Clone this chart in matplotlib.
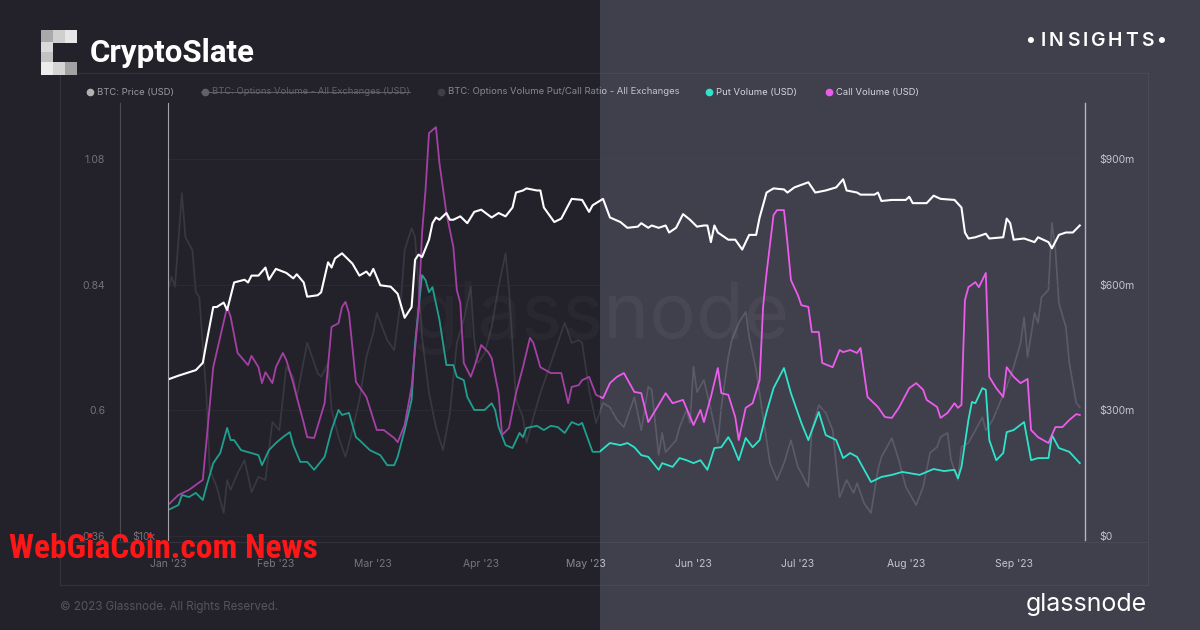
import numpy as np
import matplotlib
matplotlib.use("Agg")
from matplotlib import pyplot as plt
from matplotlib import dates as mdates
from matplotlib import font_manager
from matplotlib.lines import Line2D
from matplotlib.patches import Rectangle
from matplotlib.ticker import FixedLocator, NullLocator

# ---- data (days since 2023-01-01) ----
price_days = [0, 3, 8, 10, 11, 13, 14, 16, 17, 19,
              22, 23, 24, 26, 28, 29, 31, 34, 36, 37,
              39, 40, 43, 44, 46, 47, 48, 50, 53, 55,
              57, 58, 59, 61, 64, 66, 68, 70, 71, 72,
              73, 75, 76, 77, 78, 80, 81, 82, 84, 86,
              88, 90, 93, 95, 97, 99, 100, 102, 103, 106,
              107, 108, 111, 113, 116, 119, 121, 122, 125, 127,
              130, 132, 135, 136, 138, 139, 141, 143, 144, 146,
              148, 150, 152, 154, 155, 156, 157, 158, 161, 163,
              165, 167, 169, 170, 172, 174, 177, 178, 180, 184,
              186, 189, 192, 194, 195, 198, 199, 203, 204, 205,
              208, 212, 213, 214, 218, 220, 222, 226, 228, 229,
              230, 232, 235, 236, 240, 241, 242, 243, 246, 249,
              250, 253, 254, 256, 258, 260, 262]
price_k = [16.5, 16.7, 17.0, 17.4, 18.5, 20.8, 20.8, 21.1, 20.6, 22.5,
           22.7, 22.5, 23.0, 23.0, 23.6, 22.7, 23.5, 23.2, 22.8, 23.1,
           22.5, 21.5, 21.6, 21.8, 24.0, 23.6, 24.3, 24.7, 23.9, 23.0,
           23.3, 23.0, 23.5, 22.3, 22.2, 21.7, 20.1, 20.8, 24.2, 24.6,
           24.4, 25.8, 27.2, 27.7, 27.5, 28.1, 27.5, 27.5, 27.8, 27.2,
           28.2, 28.4, 27.7, 28.1, 27.8, 28.6, 30.0, 30.2, 30.4, 30.2,
           30.2, 28.6, 27.3, 27.6, 29.4, 29.3, 28.2, 28.8, 29.4, 27.7,
           27.3, 26.8, 26.9, 27.2, 26.8, 27.0, 26.8, 27.0, 26.4, 26.8,
           28.0, 27.5, 26.9, 27.0, 27.0, 25.6, 27.0, 26.4, 25.8, 25.8,
           25.0, 26.2, 26.2, 27.7, 30.0, 30.4, 30.3, 30.0, 30.5, 31.0,
           30.0, 30.2, 30.5, 31.3, 30.2, 30.0, 29.8, 29.8, 30.0, 29.2,
           29.3, 29.3, 29.6, 29.0, 29.0, 29.7, 29.4, 29.3, 28.6, 26.4,
           25.9, 26.0, 26.3, 25.9, 26.0, 27.6, 27.2, 25.8, 25.9, 25.6,
           26.0, 25.6, 25.1, 26.2, 26.4, 26.4, 27.0]

put_days = [0, 3, 4, 6, 8, 10, 11, 13, 15, 17,
            18, 19, 21, 24, 26, 27, 29, 31, 33, 35,
            36, 38, 40, 42, 45, 47, 49, 50, 52, 54,
            55, 58, 61, 63, 65, 66, 68, 70, 71, 73,
            74, 75, 76, 78, 80, 82, 83, 85, 86, 88,
            91, 93, 94, 95, 97, 99, 101, 102, 103, 106,
            108, 110, 112, 114, 116, 118, 119, 122, 124, 127,
            130, 132, 134, 136, 138, 141, 142, 145, 147, 149,
            151, 153, 155, 157, 159, 161, 162, 164, 166, 168,
            170, 172, 174, 177, 179, 181, 182, 184, 187, 189,
            192, 194, 196, 198, 202, 205, 208, 211, 216, 220,
            223, 226, 227, 228, 230, 231, 232, 234, 235, 236,
            238, 240, 241, 243, 246, 248, 250, 253, 254, 256,
            259, 262]
put_m = [62, 74, 98, 93, 103, 86, 117, 174, 198, 258,
         229, 229, 205, 198, 193, 169, 205, 222, 236, 248,
         217, 177, 177, 158, 189, 253, 301, 289, 294, 236,
         229, 205, 193, 169, 169, 189, 253, 325, 461, 623,
         611, 582, 594, 516, 408, 408, 380, 372, 332, 301,
         301, 317, 301, 260, 217, 210, 246, 236, 258, 263,
         253, 263, 260, 246, 272, 265, 270, 201, 201, 222,
         217, 222, 212, 193, 189, 158, 174, 165, 186, 181,
         174, 181, 158, 210, 212, 236, 222, 181, 234, 212,
         229, 296, 353, 401, 341, 294, 270, 229, 296, 241,
         229, 186, 198, 189, 129, 141, 146, 153, 146, 160,
         155, 158, 138, 165, 277, 320, 317, 353, 349, 229,
         181, 198, 248, 253, 272, 181, 186, 186, 241, 210,
         201, 174]

call_days = [0, 3, 6, 10, 11, 13, 15, 17, 18, 20,
             23, 24, 26, 27, 28, 30, 31, 33, 34, 36,
             37, 39, 40, 42, 45, 47, 49, 50, 51, 52,
             54, 57, 60, 62, 65, 66, 68, 70, 72, 73,
             74, 75, 77, 78, 80, 82, 83, 84, 85, 87,
             88, 90, 92, 93, 95, 96, 98, 100, 102, 104,
             105, 107, 110, 113, 115, 116, 118, 119, 121, 123,
             125, 127, 129, 131, 134, 136, 138, 141, 143, 145,
             148, 151, 153, 154, 156, 158, 159, 161, 163, 164,
             166, 168, 170, 171, 172, 174, 175, 177, 178, 179,
             181, 182, 184, 185, 187, 188, 191, 193, 194, 196,
             198, 199, 201, 204, 206, 208, 210, 213, 215, 217,
             218, 221, 222, 224, 226, 227, 228, 229, 230, 232,
             233, 235, 236, 238, 240, 241, 243, 245, 247, 248,
             250, 253, 255, 257, 259, 261, 262]
call_m = [74, 98, 110, 134, 222, 403, 475, 547, 523, 437,
          408, 430, 403, 365, 391, 365, 403, 437, 420, 365,
          332, 270, 236, 234, 317, 499, 508, 547, 559, 532,
          368, 332, 253, 253, 234, 224, 265, 356, 539, 723,
          826, 962, 976, 890, 771, 690, 587, 556, 413, 380,
          403, 456, 439, 425, 341, 241, 258, 341, 403, 473,
          461, 403, 389, 389, 317, 356, 360, 372, 380, 337,
          329, 365, 380, 389, 344, 341, 272, 313, 341, 317,
          325, 265, 301, 272, 332, 401, 341, 337, 284, 229,
          306, 317, 372, 547, 628, 766, 778, 778, 699, 611,
          575, 551, 547, 487, 487, 413, 403, 444, 439, 444,
          437, 449, 332, 308, 284, 282, 306, 353, 365, 349,
          325, 308, 282, 294, 317, 306, 313, 563, 594, 606,
          594, 628, 380, 353, 332, 403, 380, 365, 375, 253,
          236, 222, 260, 260, 277, 291, 289]

ratio_days = [0, 1, 2, 4, 5, 7, 8, 9, 11, 12,
              14, 16, 17, 18, 20, 22, 24, 26, 28, 30,
              32, 34, 36, 37, 40, 43, 44, 46, 47, 49,
              51, 53, 55, 57, 59, 60, 63, 65, 67, 68,
              70, 71, 72, 73, 75, 77, 79, 81, 83, 85,
              87, 88, 89, 91, 93, 95, 97, 98, 100, 102,
              103, 105, 107, 110, 112, 114, 116, 118, 119, 121,
              123, 125, 127, 129, 131, 134, 136, 138, 139, 141,
              142, 143, 146, 147, 149, 150, 151, 152, 154, 156,
              158, 159, 161, 162, 164, 166, 167, 169, 171, 173,
              175, 177, 179, 181, 182, 184, 185, 187, 189, 191,
              193, 195, 197, 198, 200, 202, 204, 205, 208, 210,
              212, 215, 217, 219, 221, 222, 224, 225, 227, 228,
              230, 232, 234, 235, 237, 239, 241, 243, 245, 246,
              247, 249, 250, 251, 253, 254, 255, 256, 258, 259,
              261, 262]
put_call_ratio = [0.830, 0.855, 0.836, 1.015, 0.931, 0.906, 0.826, 0.816, 0.633, 0.486,
                  0.454, 0.404, 0.467, 0.448, 0.480, 0.505, 0.444, 0.473, 0.467, 0.578,
                  0.562, 0.683, 0.664, 0.625, 0.729, 0.671, 0.664, 0.690, 0.601, 0.549,
                  0.511, 0.562, 0.620, 0.702, 0.748, 0.786, 0.734, 0.715, 0.816, 0.906,
                  0.948, 0.931, 0.836, 0.740, 0.633, 0.568, 0.524, 0.595, 0.729, 0.773,
                  0.836, 0.734, 0.690, 0.709, 0.759, 0.836, 0.900, 0.830, 0.620, 0.587,
                  0.538, 0.587, 0.633, 0.690, 0.729, 0.767, 0.729, 0.734, 0.729, 0.639,
                  0.576, 0.614, 0.606, 0.582, 0.568, 0.625, 0.562, 0.645, 0.639, 0.515,
                  0.557, 0.520, 0.543, 0.568, 0.601, 0.576, 0.683, 0.635, 0.658, 0.601,
                  0.538, 0.606, 0.702, 0.734, 0.767, 0.788, 0.740, 0.677, 0.587, 0.499,
                  0.467, 0.499, 0.543, 0.492, 0.480, 0.454, 0.562, 0.610, 0.595, 0.562,
                  0.434, 0.467, 0.442, 0.461, 0.423, 0.404, 0.486, 0.511, 0.547, 0.505,
                  0.454, 0.419, 0.454, 0.519, 0.530, 0.549, 0.557, 0.505, 0.467, 0.530,
                  0.538, 0.562, 0.587, 0.562, 0.582, 0.614, 0.645, 0.683, 0.729, 0.778,
                  0.702, 0.786, 0.767, 0.816, 0.830, 0.958, 0.906, 0.805, 0.759, 0.690,
                  0.614, 0.606]

vol_ticks = [0, 300, 600, 900]
vol_labels = ["$0", "$300m", "$600m", "$900m"]
ratio_ticks = [0.36, 0.6, 0.84, 1.08]
ratio_labels = ["0.36", "0.6", "0.84", "1.08"]

START = np.datetime64("2023-01-01")


def to_dates(days):
    return START + np.array(days, dtype="timedelta64[D]")


# ---- layout helpers (pixel positions on the 1200x630 canvas) ----
W, H = 1200, 630


def fx(px):
    return px / W


def fy(py):
    return 1 - py / H


def pick_font(candidates, **props):
    for fam in candidates:
        try:
            path = font_manager.findfont(font_manager.FontProperties(family=fam, **props),
                                         fallback_to_default=False)
        except ValueError:
            continue
        if fam.split()[0].lower() in path.lower().replace("-", " ").replace("_", " "):
            return fam
    return None


BG = "#403f4c"
BG_LEFT = "#33323e"      # before the dark veil
TEAL = "#2ee5cc"
MAGENTA = "#ec5cec"
FONT = "Inter"
PX = 72 / 100            # points per pixel at dpi 100

plt.rcParams["font.family"] = [FONT, "DejaVu Sans"]

fig = plt.figure(figsize=(12, 6.3), dpi=100, facecolor=BG)
fig.add_artist(Rectangle((0, 0), 0.5, 1, transform=fig.transFigure, color=BG_LEFT,
                         lw=0, zorder=-1))

ax = fig.add_axes([fx(168), fy(540), fx(1085) - fx(168), (540 - 103) / H])
ax.set_facecolor("none")
axr = ax.twinx()
axp = ax.twinx()
axr.set_zorder(-0.5)
axp.set_zorder(2)
for a in (ax, axr, axp):
    a.patch.set_visible(False)
    for s in a.spines.values():
        s.set_visible(False)

# volume (right axis)
ax.plot(to_dates(put_days), put_m, color=TEAL, lw=1.3, zorder=3)
ax.plot(to_dates(call_days), call_m, color=MAGENTA, lw=1.3, zorder=4)
ax.set_ylim(-9.5, 1033.7)
ax.yaxis.tick_right()
ax.yaxis.set_major_locator(FixedLocator(vol_ticks))
ax.set_yticklabels(vol_labels)
ax.tick_params(axis="y", length=0, pad=10, labelsize=7.5, labelcolor="#c4c3d2")
ax.spines["right"].set_visible(True)
ax.spines["right"].set_color("#b3b2c8")
ax.spines["right"].set_linewidth(1)
ax.grid(axis="y", color="#44434f", lw=0.5)
ax.set_axisbelow(True)

x0 = mdates.date2num(START)
ax.set_xlim(x0, x0 + 263.5)
ax.xaxis.set_major_locator(mdates.MonthLocator())
ax.xaxis.set_major_formatter(mdates.DateFormatter("%b '%y"))
ax.tick_params(axis="x", length=0, pad=14, labelsize=7.5, labelcolor="#c4c3d2")

# put/call ratio (far left axis)
axr.plot(to_dates(ratio_days), put_call_ratio, color="#9c9bab", lw=1.2, alpha=0.3)
axr.set_ylim(0.3524, 1.187)
axr.yaxis.set_ticks_position("left")
axr.yaxis.set_major_locator(FixedLocator(ratio_ticks))
axr.set_yticklabels(ratio_labels)
axr.tick_params(axis="y", length=0, pad=15 * PX, labelsize=7.5, labelcolor="#a4a3b0")
axr.spines["left"].set_visible(True)
axr.spines["left"].set_position(("outward", 48 * PX))
axr.spines["left"].set_color("#6c6b78")

# BTC price (log, inner left axis)
axp.plot(to_dates(price_days), np.array(price_k) * 1000, color="white", lw=1.5)
axp.set_yscale("log")
axp.set_ylim(9873, 39950)
axp.yaxis.set_ticks_position("left")
axp.yaxis.set_major_locator(FixedLocator([10000]))
axp.yaxis.set_minor_locator(NullLocator())
axp.set_yticklabels(["$10k"])
axp.tick_params(axis="y", length=0, pad=13 * PX, labelsize=7.5, labelcolor="#75747f")
axp.spines["left"].set_visible(True)
axp.spines["left"].set_color("#a4a4aa")

# faint centre watermark
ax.text(0.5, 0.495, "glassnode", transform=fig.transFigure, ha="center", va="center",
        fontsize=56, color="white", alpha=0.045, zorder=0)

# chart frame
frame = dict(color="#4a4956", lw=0.8, transform=fig.transFigure, zorder=0.3)
fig.add_artist(Line2D([fx(60), fx(1148)], [fy(73), fy(73)], **frame))
fig.add_artist(Line2D([fx(60), fx(1148)], [fy(585), fy(585)], **frame))
fig.add_artist(Line2D([fx(60), fx(1148)], [fy(542), fy(542)], **frame))
fig.add_artist(Line2D([fx(60), fx(60)], [fy(73), fy(585)], **frame))
fig.add_artist(Line2D([fx(1148), fx(1148)], [fy(73), fy(585)], **frame))

# legend
legend_items = [
    (90, "white", "BTC: Price (USD)", "#dcdce4"),
    (205, "#8c8c94", "BTC: Options Volume - All Exchanges (USD)", "#8c8c94"),
    (441, "#5c5b66", "BTC: Options Volume Put/Call Ratio - All Exchanges", "#c4c3d0"),
    (709, TEAL, "Put Volume (USD)", "#d4d4de"),
    (829, MAGENTA, "Call Volume (USD)", "#d4d4de"),
]
legend_texts = []
for px, dot, label, tc in legend_items:
    fig.add_artist(Line2D([fx(px)], [fy(92)], marker="o", ms=4.5, color=dot, lw=0,
                          transform=fig.transFigure, zorder=0.5))
    t = fig.text(fx(px + 7), fy(92), label, fontsize=6.8, color=tc, va="center", ha="left",
                 zorder=0.5)
    legend_texts.append(t)

fig.canvas.draw()
renderer = fig.canvas.get_renderer()
bb = legend_texts[1].get_window_extent(renderer)
fig.add_artist(Line2D([fx(201), bb.x1 / W], [fy(92), fy(92)], color="#8c8c94", lw=0.7,
                      transform=fig.transFigure, zorder=0.5))

# dim the month labels sitting in the dark half
for lab in ax.get_xticklabels():
    if lab.get_position()[0] < mdates.date2num(np.datetime64("2023-05-01")):
        lab.set_color("#a8a7b4")

# darker left half
fig.add_artist(Rectangle((0, 0), 0.5, 1, transform=fig.transFigure, color="black",
                         alpha=0.3, lw=0, zorder=1))

# CryptoSlate logo blocks
logo = [
    (41, 30, "#a9a9a9"), (53, 30, "#cfcfcf"), (65, 30, "#e6e6e6"),
    (41, 42, "#dadada"), (41, 52, "#c2c2c2"),
    (41, 62, "#ececec"), (53, 62, "#d4d4d4"), (65, 62, "#a2a2a2"),
]
for bx, by, c in logo:
    fig.add_artist(Rectangle((fx(bx), fy(by + 12.5)), 12 / W, 12.5 / H,
                             transform=fig.transFigure, color=c, lw=0, zorder=3))

fig.text(fx(90), fy(53), "CryptoSlate", fontsize=22.5, fontweight="bold", color="white",
         va="center", ha="left", zorder=3, family=["Roboto", "DejaVu Sans"])

# "• INSIGHTS •" with letter spacing
cur = 1025
for ch in "•INSIGHTS•":
    t = fig.text(fx(cur), fy(41), ch, fontsize=14, fontweight="semibold", color="white",
                 va="center", ha="left", zorder=3)
    w = t.get_window_extent(renderer).width
    cur += w + (6 if ch == "•" else 3.0)

# footer
fig.text(fx(60), fy(607), "\u00a9 2023 Glassnode. All Rights Reserved.", fontsize=8.3,
         color="#7a7986", va="center", ha="left", zorder=0.5)
fig.text(fx(1147), fy(605), "glassnode", fontsize=18, color="white", va="center",
         ha="right", zorder=3)

# site watermark (narrow bold face, sized to span about 308 px)
narrow = pick_font(["Liberation Sans Narrow", "DejaVu Sans Condensed", "Roboto Condensed"],
                   weight="bold")
if narrow is None:
    narrow_kw = dict(family=["Roboto", "DejaVu Sans"], fontweight="black")
else:
    narrow_kw = dict(family=[narrow, "DejaVu Sans"], fontweight="bold")
wm = fig.text(fx(9), fy(549), "WebGiaCoin.com News", fontsize=24, color="#ff1616",
              va="center", ha="left", zorder=4, **narrow_kw)
wm_w = wm.get_window_extent(renderer).width
if wm_w > 0:
    wm.set_fontsize(24 * 309 / wm_w)

fig.savefig("out.png", dpi=100, facecolor=BG)
